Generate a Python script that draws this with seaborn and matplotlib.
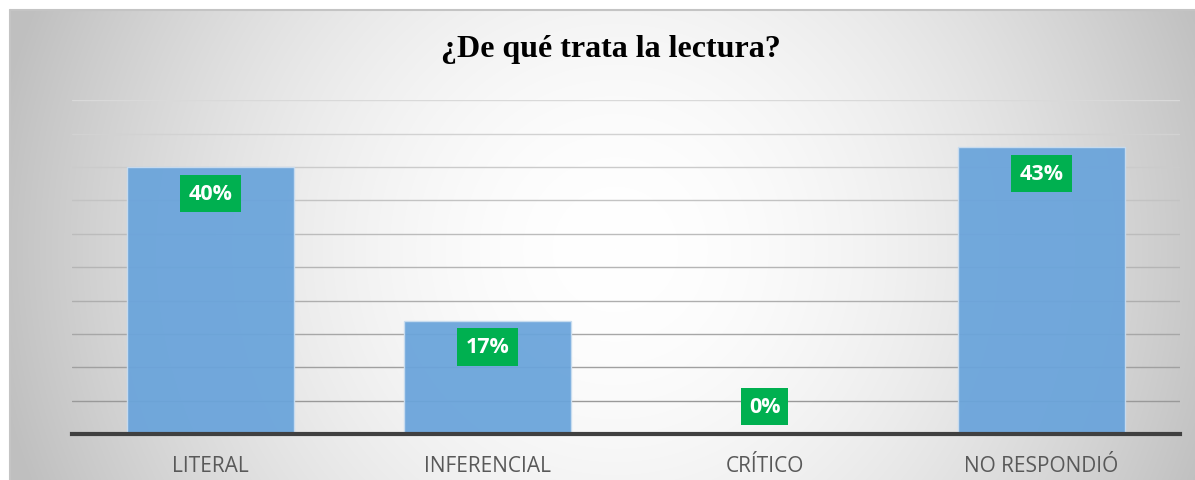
import numpy as np
import matplotlib
matplotlib.use("Agg")
import matplotlib.pyplot as plt
from matplotlib.lines import Line2D
import seaborn as sns

# ---- data ----
categories = ["LITERAL", "INFERENCIAL", "CRÍTICO", "NO RESPONDIÓ"]
values = [0.40, 0.17, 0.00, 0.43]
value_labels = ["40%", "17%", "0%", "43%"]
title = "¿De qué trata la lectura?"

W, H, DPI = 1195, 481, 100
sns.set_theme(style="white")
plt.rcParams["font.family"] = ["Open Sans", "DejaVu Sans"]

fig = plt.figure(figsize=(W / DPI, H / DPI), dpi=DPI, facecolor="white")

# ---- radial gradient background panel ----
fx0, fy0 = 10, 11  # top-left corner of chart frame in pixels
bw, bh = W - fx0, H - fy0
bg = fig.add_axes([fx0 / W, 0, bw / W, bh / H], zorder=-5)
xx, yy = np.meshgrid(np.arange(bw) + fx0, np.arange(bh) + fy0)
cx, cy = 615, 250
r = np.sqrt((xx - cx) ** 2 + (yy - cy) ** 2) / 610.0
r = np.clip(r, 0, 1.1)
shade = (255 - 60 * r ** 1.8) / 255.0
shade = np.clip(shade, 0.75, 1.0)
img = np.dstack([shade, shade, shade])
bg.imshow(img, aspect="auto", interpolation="bilinear")
bg.set_axis_off()
# frame border (top and left visible)
fig.add_artist(Line2D([fx0 / W, 1], [1 - fy0 / H, 1 - fy0 / H], transform=fig.transFigure,
                      color="#c4c4c4", lw=1.5))
fig.add_artist(Line2D([fx0 / W, fx0 / W], [0, 1 - fy0 / H], transform=fig.transFigure,
                      color="#c4c4c4", lw=1.5))

# ---- main axes ----
left, right = 72 / W, 1180 / W
bottom, top = 1 - 435 / H, 1 - 101 / H
ax = fig.add_axes([left, bottom, right - left, top - bottom])
ax.patch.set_alpha(0)

sns.barplot(x=categories, y=values, color="#6aa4db", saturation=1, width=0.6, ax=ax, zorder=3)
for p in ax.patches:
    p.set_alpha(0.94)
    p.set_edgecolor("#c9ddf0")
    p.set_linewidth(1.0)

ax.set_ylim(0, 0.5005)
ax.set_xlim(-0.5, len(categories) - 0.5)
ax.set_yticks(np.arange(0.05, 0.501, 0.05))
ax.tick_params(axis="y", length=0, labelleft=False)
ax.yaxis.grid(True, zorder=0)
glines = ax.yaxis.get_gridlines()
n = len(glines)
for i, gl in enumerate(glines):
    t = i / max(n - 1, 1)  # 0 bottom .. 1 top
    c = 0.60 + 0.25 * t
    gl.set_color((c, c, c))
    gl.set_linewidth(1.0)
ax.set_axisbelow(True)

for s in ["top", "right", "left"]:
    ax.spines[s].set_visible(False)
ax.spines["bottom"].set_color("#404040")
ax.spines["bottom"].set_linewidth(3.0)
ax.spines["bottom"].set_zorder(5)

ax.set_xlabel("")
ax.set_ylabel("")
ax.tick_params(axis="x", length=0, pad=15, labelsize=15, labelcolor="#595959")

# ---- data labels ----
for p, v, lab in zip(ax.patches, values, value_labels):
    xc = p.get_x() + p.get_width() / 2
    h = p.get_height()
    off = -19 if h > 0 else 20
    ax.annotate(lab, xy=(xc, h), xytext=(0, off), textcoords="offset points",
                ha="center", va="center", fontsize=15.5, fontweight="bold", color="white",
                family=["Open Sans", "DejaVu Sans"], zorder=6,
                bbox=dict(boxstyle="square,pad=0.38", facecolor="#00B050", edgecolor="none"))

# ---- title ----
fig.text(611 / W, 1 - 50 / H, title, ha="center", va="center", fontsize=23,
         fontweight="bold", family=["Liberation Serif", "DejaVu Serif"], color="#000000")

fig.savefig("out.png", dpi=DPI, facecolor="white")
